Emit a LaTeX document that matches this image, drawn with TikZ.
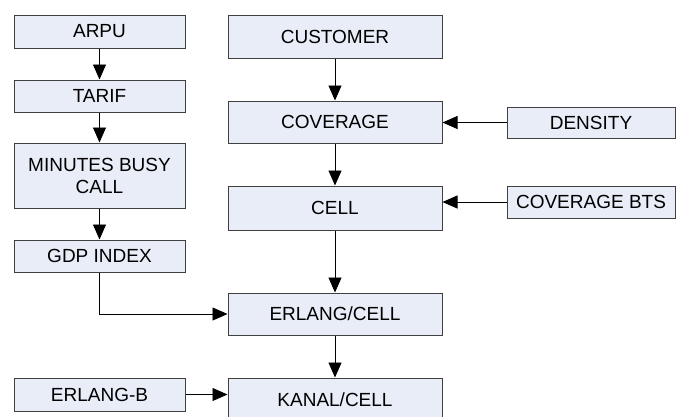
\documentclass[tikz,border=0pt]{standalone}
\usepackage{fontspec}
\setmainfont{Liberation Sans}
\usetikzlibrary{arrows.meta}
\definecolor{boxfill}{HTML}{E8EDF7}
\definecolor{boxline}{HTML}{404040}
\tikzset{
  box/.style={draw=boxline, fill=boxfill, line width=1pt, rectangle, inner sep=0pt,
    font=\fontsize{19}{22}\selectfont, align=center, text=black},
  conn/.style={draw=black, line width=0.9pt, -{Triangle[length=15pt,width=13pt]}}
}
\begin{document}
\begin{tikzpicture}[x=1pt,y=-1pt]
\useasboundingbox (0,0) rectangle (676,416);
\clip (0,0) rectangle (676,416);
% left column
\node[box, minimum width=171pt, minimum height=33pt] (arpu) at (99.5,31.5) {ARPU};
\node[box, minimum width=171pt, minimum height=32pt] (tarif) at (99.5,96) {TARIF};
\node[box, minimum width=171pt, minimum height=65pt] (minutes) at (99.5,175.5) {MINUTES BUSY\\CALL};
\node[box, minimum width=171pt, minimum height=32pt] (gdp) at (99.5,256) {GDP INDEX};
\node[box, minimum width=171pt, minimum height=33pt] (erlangb) at (99.5,394.5) {ERLANG-B};
% centre column
\node[box, minimum width=214pt, minimum height=43pt] (customer) at (335,36.5) {CUSTOMER};
\node[box, minimum width=214pt, minimum height=42pt] (coverage) at (335,122) {COVERAGE};
\node[box, minimum width=214pt, minimum height=44pt] (cell) at (335,208) {CELL};
\node[box, minimum width=214pt, minimum height=42pt] (erlang) at (335,314) {ERLANG/CELL};
\node[box, minimum width=214pt, minimum height=44pt] (kanal) at (335,400) {KANAL/CELL};
% right column
\node[box, minimum width=168pt, minimum height=31pt] (density) at (591,122.5) {DENSITY};
\node[box, minimum width=168pt, minimum height=32pt] (bts) at (591,202) {COVERAGE BTS};
% connectors
\draw[conn] (arpu) -- (tarif);
\draw[conn] (tarif) -- (minutes);
\draw[conn] (minutes) -- (gdp);
\draw[conn] (customer) -- (coverage);
\draw[conn] (coverage) -- (cell);
\draw[conn] (cell) -- (erlang);
\draw[conn] (erlang) -- (kanal);
\draw[conn] (density.west) -- (density.west -| coverage.east);
\draw[conn] (bts.west) -- (bts.west -| cell.east);
\draw[conn] (gdp.south) |- (erlang.west);
\draw[conn] (erlangb.east) -- (erlangb.east -| kanal.west);
\end{tikzpicture}
\end{document}
